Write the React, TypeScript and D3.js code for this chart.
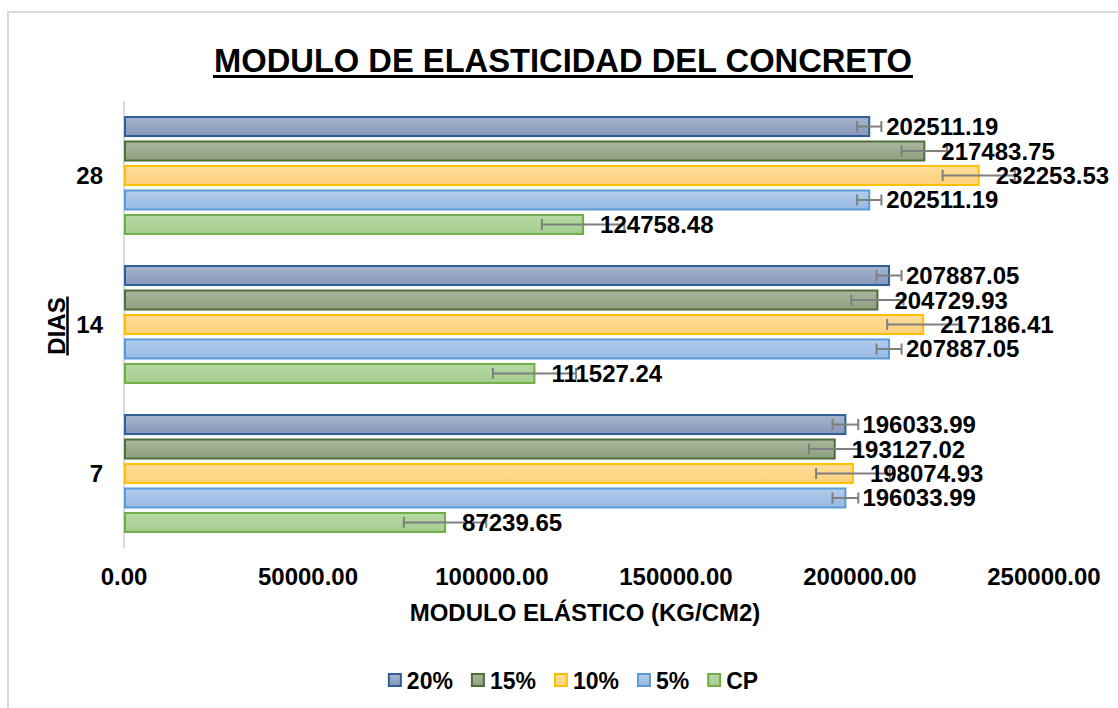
import * as d3 from "d3";

const dias = ["28", "14", "7"];
const series = ["20%", "15%", "10%", "5%", "CP"];
// values[serie][dia]
const values = {
  "20%": [202511.19, 207887.05, 196033.99],
  "15%": [217483.75, 204729.93, 193127.02],
  "10%": [232253.53, 217186.41, 198074.93],
  "5%": [202511.19, 207887.05, 196033.99],
  CP: [124758.48, 111527.24, 87239.65],
};
// +/- error
const errors = {
  "20%": [3300, 3400, 3500],
  "15%": [6200, 7100, 7000],
  "10%": [9800, 9800, 10000],
  "5%": [3300, 3400, 3500],
  CP: [11200, 11300, 11200],
};
const xTicks = [0, 50000, 100000, 150000, 200000, 250000];

const colors = {
  "20%": { stroke: "#2f5f96", top: "#a7b5ce", bottom: "#8597ba" },
  "15%": { stroke: "#4e6e3b", top: "#aab79e", bottom: "#8ea080" },
  "10%": { stroke: "#ffc000", top: "#ffdd9c", bottom: "#ffd27c" },
  "5%": { stroke: "#5b9bd5", top: "#b3cdec", bottom: "#96b9e4" },
  CP: { stroke: "#70ad47", top: "#b6d8a4", bottom: "#a6cd90" },
};

const font = "'Liberation Sans', Arial, sans-serif";
const charW: Record<string, number> = { "%": 0.889, C: 0.722, P: 0.667 };
const textW = (s: string, size: number) =>
  s.split("").reduce((a, c) => a + (charW[c] ?? 0.556), 0) * size;

export default function App() {
  const width = 1118;
  const height = 708;
  const left = 124;
  const right = 1044;
  const top = 101;
  const bottom = 548;

  const x = d3.scaleLinear([0, 250000], [left, right]);
  const y = d3.scaleBand(dias, [top, bottom]).paddingInner(0.195).paddingOuter(0.0975);
  const yInner = d3.scaleBand(series, [0, y.bandwidth()]).paddingInner(0.1);
  const bh = yInner.bandwidth();

  // legend layout
  const legSize = 23;
  const sw = 14;
  const items = series.map((s) => ({ s, w: sw + 5 + textW(s, legSize) }));
  const spacing = 18;
  const total = d3.sum(items, (d) => d.w) + spacing * (items.length - 1);
  let lx = 573 - total / 2;
  const legend = items.map((d) => {
    const o = { ...d, x: lx };
    lx += d.w + spacing;
    return o;
  });

  const title = "MODULO DE ELASTICIDAD DEL CONCRETO";

  return (
    <svg
      width={width}
      height={height}
      style={{ position: "absolute", left: 0, top: 0, display: "block" }}
      fontFamily={font}
      fontWeight="bold"
    >
      <defs>
        {series.map((s, i) => (
          <linearGradient key={s} id={`g${i}`} x1="0" y1="0" x2="0" y2="1">
            <stop offset="0" stopColor={colors[s].top} />
            <stop offset="1" stopColor={colors[s].bottom} />
          </linearGradient>
        ))}
      </defs>
      <rect x={0} y={0} width={width} height={height} fill="#fff" />
      <rect x={8} y={12} width={1300} height={900} fill="none" stroke="#d9d9d9" strokeWidth={2} />

      {/* title */}
      <text x={563} y={72} textAnchor="middle" fontSize={32.7} fill="#000">
        {title}
      </text>
      <line x1={213} x2={913} y1={76.5} y2={76.5} stroke="#000" strokeWidth={3} />

      {/* y axis line */}
      <line x1={left} x2={left} y1={top} y2={bottom} stroke="#d9d9d9" strokeWidth={2} />

      {/* bars */}
      {dias.map((dia, di) => (
        <g key={dia} transform={`translate(0,${y(dia)})`}>
          {series.map((s, si) => {
            const v = values[s][di];
            const e = errors[s][di];
            const by = yInner(s)!;
            const cy = by + bh / 2;
            return (
              <g key={s}>
                <rect
                  x={x(0) + 1}
                  y={by + 1.5}
                  width={x(v) - x(0) - 1}
                  height={bh - 3}
                  fill={`url(#g${si})`}
                  stroke={colors[s].stroke}
                  strokeWidth={2}
                />
                <g stroke="#7f7f7f" strokeWidth={2}>
                  <line x1={x(v - e)} x2={x(v + e)} y1={cy} y2={cy} />
                  <line x1={x(v - e)} x2={x(v - e)} y1={cy - 5.5} y2={cy + 5.5} />
                  <line x1={x(v + e)} x2={x(v + e)} y1={cy - 5.5} y2={cy + 5.5} />
                </g>
                <text x={x(v) + 17} y={cy + 8.5} fontSize={24} fill="#000">
                  {v.toFixed(2)}
                </text>
              </g>
            );
          })}
        </g>
      ))}

      {/* y tick labels */}
      {dias.map((dia) => (
        <text
          key={dia}
          x={103}
          y={y(dia)! + y.bandwidth() / 2 + 8.5}
          textAnchor="end"
          fontSize={24}
          fill="#000"
        >
          {dia}
        </text>
      ))}

      {/* x tick labels */}
      {xTicks.map((t) => (
        <text key={t} x={x(t)} y={585} textAnchor="middle" fontSize={24} fill="#000">
          {t.toFixed(2)}
        </text>
      ))}

      {/* axis titles */}
      <text x={585} y={621} textAnchor="middle" fontSize={24} fill="#000">
        MODULO ELÁSTICO (KG/CM2)
      </text>
      <g transform="translate(65,326) rotate(-90)">
        <text x={0} y={0} textAnchor="middle" fontSize={24} fill="#000">
          DIAS
        </text>
        <line x1={-29.5} x2={29.5} y1={2.5} y2={2.5} stroke="#000" strokeWidth={2.5} />
      </g>

      {/* legend */}
      {legend.map((d) => {
        const i = series.indexOf(d.s);
        return (
          <g key={d.s} transform={`translate(${d.x},680)`}>
            <rect
              x={1}
              y={-sw / 2 + 1}
              width={sw - 2}
              height={sw - 2}
              fill={`url(#g${i})`}
              stroke={colors[d.s].stroke}
              strokeWidth={2}
            />
            <text x={sw + 5} y={8.5} fontSize={legSize} fill="#000">
              {d.s}
            </text>
          </g>
        );
      })}
    </svg>
  );
}
